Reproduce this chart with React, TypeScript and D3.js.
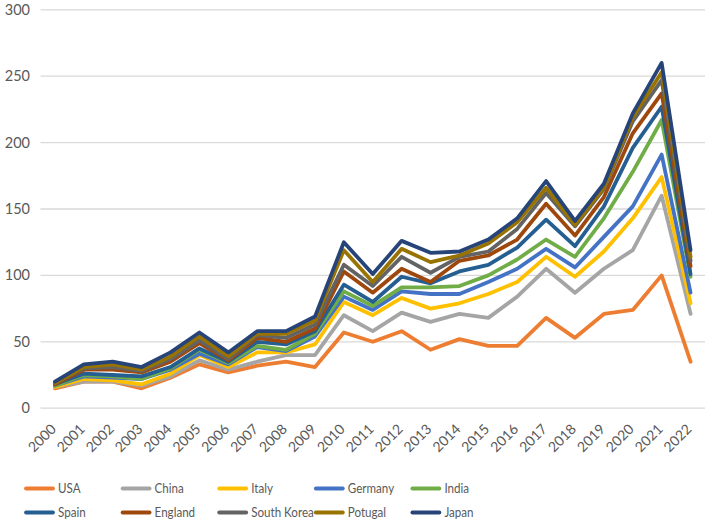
import React from "react";
import * as d3 from "d3";

const years = ["2000","2001","2002","2003","2004","2005","2006","2007","2008","2009","2010","2011","2012","2013","2014","2015","2016","2017","2018","2019","2020","2021","2022"];
const yTicks = [0, 50, 100, 150, 200, 250, 300];

const usa = [15, 20, 20, 15, 23, 33, 27, 32, 35, 31, 57, 50, 58, 44, 52, 47, 47, 68, 53, 71, 74, 100, 35];
const china = [16, 20, 20, 17, 24, 36, 29, 35, 40, 40, 70, 58, 72, 65, 71, 68, 84, 105, 87, 105, 119, 160, 71];
const italy = [16, 22, 21, 18, 26, 40, 31, 42, 42, 48, 80, 70, 83, 75, 79, 86, 95, 114, 99, 118, 143, 174, 79];
const germany = [17, 24, 23, 22, 29, 41, 33, 46, 43, 54, 84, 74, 88, 86, 86, 95, 105, 120, 106, 129, 152, 191, 87];
const india = [17, 25, 24, 22, 30, 44, 34, 47, 44, 56, 88, 77, 91, 91, 92, 100, 112, 127, 114, 143, 178, 217, 99];
const spain = [18, 26, 25, 24, 31, 45, 35, 50, 48, 58, 93, 80, 99, 94, 103, 108, 121, 142, 122, 152, 196, 227, 101];
const england = [18, 29, 29, 27, 35, 49, 36, 53, 50, 60, 103, 87, 105, 95, 111, 115, 127, 154, 130, 159, 207, 237, 107];
const southKorea = [19, 30, 31, 28, 37, 51, 37, 55, 53, 63, 108, 92, 114, 102, 114, 118, 135, 162, 137, 165, 216, 247, 111];
const portugal = [19, 31, 33, 29, 39, 54, 39, 56, 56, 66, 119, 95, 120, 110, 115, 124, 140, 166, 138, 166, 219, 253, 114];
const japan = [20, 33, 35, 31, 42, 57, 42, 58, 58, 69, 125, 101, 126, 117, 118, 127, 143, 171, 141, 169, 222, 260, 119];

const seriesNames = ["USA", "China", "Italy", "Germany", "India", "Spain", "England", "South Korea", "Potugal", "Japan"];
const seriesValues = [usa, china, italy, germany, india, spain, england, southKorea, portugal, japan];
const seriesColors = ["#ED7D31", "#A5A5A5", "#FFC000", "#4472C4", "#70AD47", "#255E91", "#9E480E", "#636363", "#997300", "#264478"];

const W = 709;
const H = 524;
const FONT = "Lato, 'Open Sans', sans-serif";
const TEXT = "#595959";

export default function App() {
  const x = d3.scaleBand<string>().domain(years).range([40.5, 705]).padding(0);
  const y = d3.scaleLinear().domain([0, 300]).range([408.2, 9.8]);
  const cx = (yr: string) => (x(yr) as number) + x.bandwidth() / 2;
  const line = d3
    .line<number>()
    .x((_, i) => cx(years[i]))
    .y((v) => y(v));

  return (
    <div style={{ position: "absolute", left: 0, top: 0, width: W, height: H, background: "#fff" }}>
      <svg width={W} height={H} style={{ display: "block" }}>
        <rect width={W} height={H} fill="#fff" />
        {yTicks.map((t) => (
          <g key={t}>
            <line x1={40.5} x2={705} y1={y(t)} y2={y(t)} stroke="#D9D9D9" strokeWidth={1.3} />
            <text x={30} y={y(t)} dy="0.35em" textAnchor="end" fontFamily={FONT} fontSize={14.5} fill={TEXT}>
              {t}
            </text>
          </g>
        ))}
        {years.map((yr) => (
          <text
            key={yr}
            transform={`translate(${cx(yr) + 2},${430}) rotate(-45)`}
            textAnchor="end"
            fontFamily={FONT}
            fontSize={14}
            fill={TEXT}
          >
            {yr}
          </text>
        ))}
        {seriesValues.map((vals, i) => (
          <path
            key={seriesNames[i]}
            d={line(vals) || ""}
            fill="none"
            stroke={seriesColors[i]}
            strokeWidth={3.8}
            strokeLinejoin="round"
            strokeLinecap="round"
          />
        ))}
        {seriesNames.map((name, i) => {
          const col = i % 5;
          const row = Math.floor(i / 5);
          const lx = 26 + col * 96.6;
          const ly = 488.5 + row * 24;
          return (
            <g key={name}>
              <line x1={lx} x2={lx + 27} y1={ly} y2={ly} stroke={seriesColors[i]} strokeWidth={3.8} strokeLinecap="round" />
              <text
                transform={`translate(${lx + 32},${ly}) scale(0.86,1)`}
                dy="0.35em"
                fontFamily={FONT}
                fontSize={13.5}
                fill={TEXT}
              >
                {name}
              </text>
            </g>
          );
        })}
      </svg>
    </div>
  );
}
